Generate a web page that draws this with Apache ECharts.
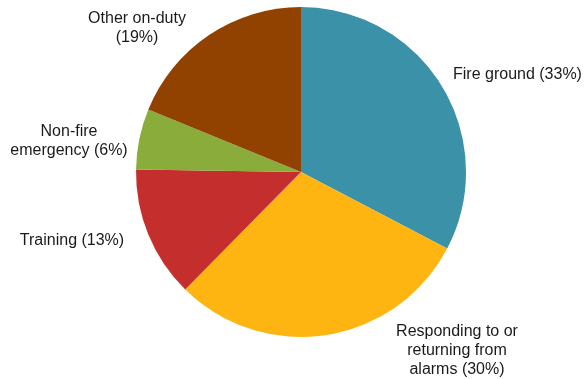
<!DOCTYPE html>
<html>
<head>
<meta charset="utf-8">
<script src="https://cdn.jsdelivr.net/npm/echarts@6/dist/echarts.min.js"></script>
<style>
  html, body { margin: 0; padding: 0; background: #fff; }
  #chart { width: 584px; height: 379px; }
</style>
</head>
<body>
<div id="chart"></div>
<script>
// Share of time by activity (percent), clockwise from 12 o'clock
const categories = [
  'Fire ground',
  'Responding to or\nreturning from\nalarms',
  'Training',
  'Non-fire\nemergency',
  'Other on-duty\n'
];
const shares = [33, 30, 13, 6, 19];
const colors = ['#3A91A8', '#FFB511', '#C42F2D', '#89AC3B', '#914100'];

// Where each label block sits (centre / left anchor)
const labelAnchors = [
  { x: 453, y: 75, align: 'left' },
  { x: 457, y: 351, align: 'center' },
  { x: 72, y: 241, align: 'center' },
  { x: 69, y: 141, align: 'center' },
  { x: 137, y: 28, align: 'center' }
];

const chart = echarts.init(document.getElementById('chart'));
chart.setOption({
  animation: false,
  series: [{
    type: 'pie',
    center: [301, 172],
    radius: [0, 165],
    startAngle: 90,
    clockwise: true,
    silent: true,
    data: categories.map((name, i) => ({
      name: name,
      value: shares[i],
      itemStyle: { color: colors[i] }
    })),
    itemStyle: { borderWidth: 0 },
    label: {
      show: true,
      position: 'outside',
      fontFamily: 'Liberation Sans, Arial, sans-serif',
      fontSize: 16,
      color: '#1a1a1a',
      lineHeight: 19,
      width: 200,
      overflow: 'none',
      formatter: p => {
        const n = p.name;
        if (n.endsWith('\n')) return n + '(' + p.value + '%)';
        return n + ' (' + p.value + '%)';
      }
    },
    labelLine: { show: false },
    labelLayout: p => {
      const a = labelAnchors[p.dataIndex];
      return { x: a.x, y: a.y, align: a.align, verticalAlign: 'middle', hideOverlap: false, moveOverlap: null };
    }
  }]
});
</script>
</body>
</html>
